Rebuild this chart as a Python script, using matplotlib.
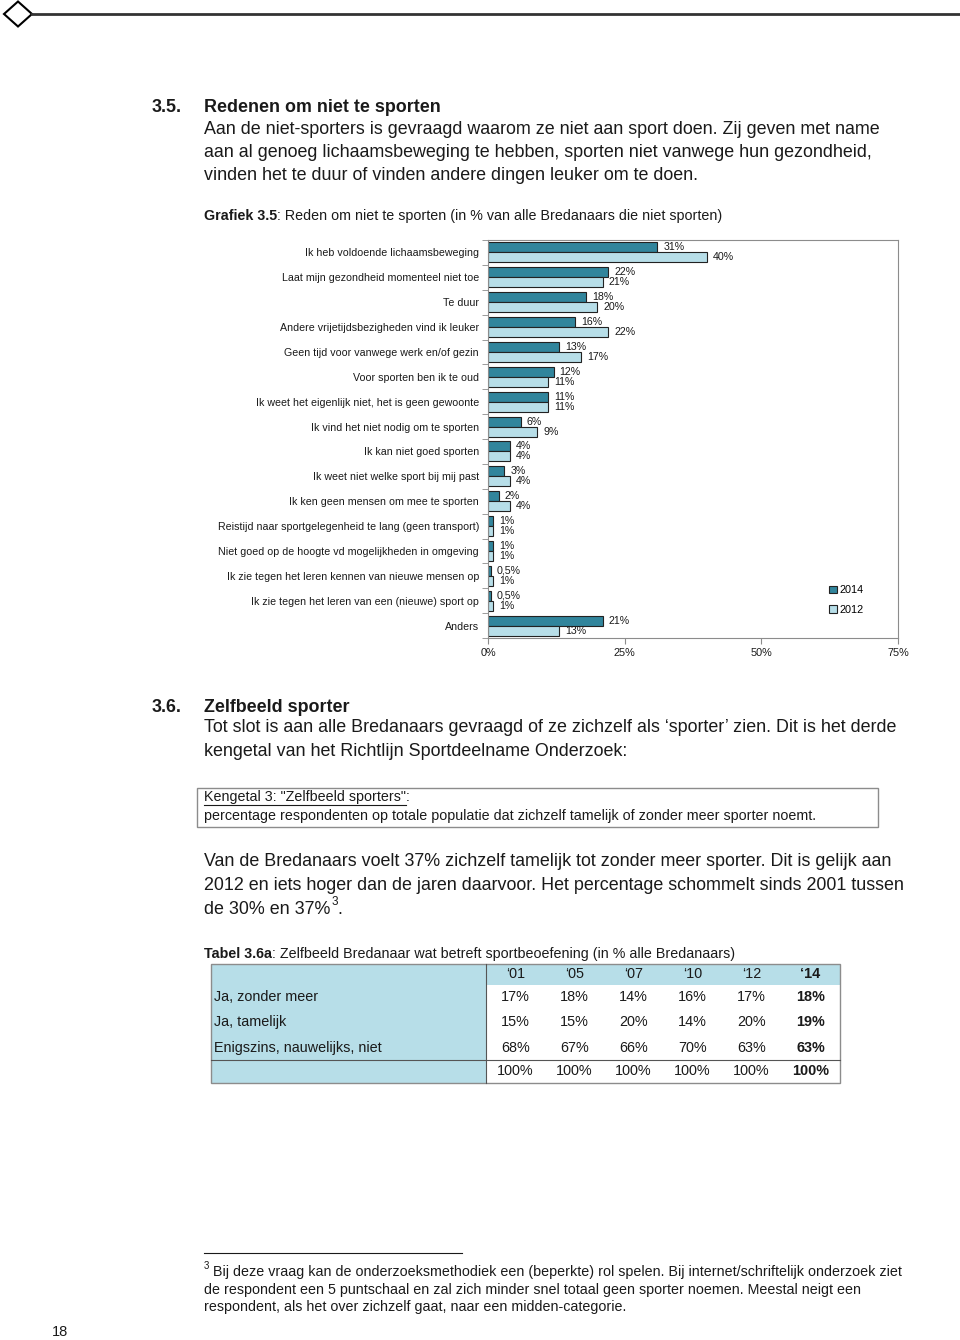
import numpy as np
import matplotlib
matplotlib.use("Agg")
import matplotlib.pyplot as plt
from matplotlib.patches import Rectangle, Polygon

plt.rcParams["font.family"] = ["Liberation Sans", "DejaVu Sans"]

W, H = 960, 1340

# Grafiek 3.5 - redenen om niet te sporten
categories = [
    "Ik heb voldoende lichaamsbeweging",
    "Laat mijn gezondheid momenteel niet toe",
    "Te duur",
    "Andere vrijetijdsbezigheden vind ik leuker",
    "Geen tijd voor vanwege werk en/of gezin",
    "Voor sporten ben ik te oud",
    "Ik weet het eigenlijk niet, het is geen gewoonte",
    "Ik vind het niet nodig om te sporten",
    "Ik kan niet goed sporten",
    "Ik weet niet welke sport bij mij past",
    "Ik ken geen mensen om mee te sporten",
    "Reistijd naar sportgelegenheid te lang (geen transport)",
    "Niet goed op de hoogte vd mogelijkheden in omgeving",
    "Ik zie tegen het leren kennen van nieuwe mensen op",
    "Ik zie tegen het leren van een (nieuwe) sport op",
    "Anders",
]
values_2014 = [31, 22, 18, 16, 13, 12, 11, 6, 4, 3, 2, 1, 1, 0.5, 0.5, 21]
values_2012 = [40, 21, 20, 22, 17, 11, 11, 9, 4, 4, 4, 1, 1, 1, 1, 13]
x_ticks = [0, 25, 50, 75]

# Tabel 3.6a
table_years = ["\u201801", "\u201805", "\u201807", "\u201810", "\u201812", "\u201814"]
table_rows = ["Ja, zonder meer", "Ja, tamelijk", "Enigszins, nauwelijks, niet"]
ja_zonder_meer = [17, 18, 14, 16, 17, 18]
ja_tamelijk = [15, 15, 20, 14, 20, 19]
enigszins_niet = [68, 67, 66, 70, 63, 63]
totaal = [100, 100, 100, 100, 100, 100]

DARK = "#31859C"
LIGHT = "#B7DEE8"
TXT = "#1a1a1a"
BODY = 12.9   # lopende tekst
SMALL = 10.3  # bijschriften, kader, voetnoot
CHART = 7.65  # tekst in de grafiek


def pct(v):
    return f"{v:g}%".replace(".", ",")


fig = plt.figure(figsize=(W / 100, H / 100), dpi=100)
page = fig.add_axes([0, 0, 1, 1])
page.set_xlim(0, W)
page.set_ylim(H, 0)
page.axis("off")
renderer = fig.canvas.get_renderer()


def runs(x, y, parts, size):
    """Tekst in stukken met wisselend gewicht achter elkaar."""
    for s, weight in parts:
        t = page.text(x, y, s, fontsize=size, fontweight=weight, va="center",
                      color=TXT)
        bb = t.get_window_extent(renderer=renderer)
        x = page.transData.inverted().transform((bb.x1, 0))[0]
    return x


# kop van de pagina
page.plot([32, W], [14, 14], color="#333333", lw=2)
page.add_patch(Polygon([(4, 14), (18, 1.5), (32, 14), (18, 26.5)], closed=True,
                       fill=False, edgecolor="black", lw=1.5))

# 3.5
page.text(152, 107, "3.5.", fontsize=BODY, fontweight="bold", va="center", color=TXT)
page.text(204, 107, "Redenen om niet te sporten", fontsize=BODY, fontweight="bold",
          va="center", color=TXT)
body_35 = [
    "Aan de niet-sporters is gevraagd waarom ze niet aan sport doen. Zij geven met name",
    "aan al genoeg lichaamsbeweging te hebben, sporten niet vanwege hun gezondheid,",
    "vinden het te duur of vinden andere dingen leuker om te doen.",
]
for i, line in enumerate(body_35):
    page.text(204, 129 + 23.5 * i, line, fontsize=BODY, va="center", color=TXT)

runs(204, 216, [("Grafiek 3.5", "bold"),
                (": Reden om niet te sporten (in % van alle Bredanaars die niet sporten)", "normal")],
     SMALL)

# grafiek
ax = fig.add_axes([488 / W, 1 - 638 / H, 410 / W, 398 / H])
y = np.arange(len(categories))
h = 0.4
ax.barh(y - h / 2, values_2014, height=h, color=DARK, edgecolor="#222222", lw=0.8,
        label="2014")
ax.barh(y + h / 2, values_2012, height=h, color=LIGHT, edgecolor="#222222", lw=0.8,
        label="2012")
for yy, v in zip(y, values_2014):
    ax.annotate(pct(v), (v, yy - h / 2), xytext=(4.3, 0), textcoords="offset points",
                va="center", ha="left", fontsize=CHART, color=TXT)
for yy, v in zip(y, values_2012):
    ax.annotate(pct(v), (v, yy + h / 2), xytext=(4.3, 0), textcoords="offset points",
                va="center", ha="left", fontsize=CHART, color=TXT)

ax.set_xlim(0, 75)
ax.set_ylim(len(categories) - 0.5, -0.5)
ax.set_xticks(x_ticks)
ax.set_xticklabels([f"{t}%" for t in x_ticks], fontsize=7.8, color=TXT)
ax.set_yticks(y)
ax.set_yticklabels(categories, fontsize=CHART, color=TXT)
ax.set_yticks(np.arange(-0.5, len(categories), 1), minor=True)
ax.tick_params(axis="y", which="major", length=0, pad=6.5)
ax.tick_params(axis="y", which="minor", length=4, color="#8c8c8c", direction="out")
ax.tick_params(axis="x", length=4, color="#8c8c8c", direction="out", pad=3)
for sp in ax.spines.values():
    sp.set_color("#8c8c8c")
    sp.set_linewidth(0.8)
ax.legend(loc="center left", bbox_to_anchor=(829 / W, 1 - 600 / H),
          bbox_transform=fig.transFigure, frameon=False, fontsize=7.8,
          handlelength=0.7, handleheight=0.7, handletextpad=0.3, labelspacing=0.85,
          borderpad=0, borderaxespad=0)

# 3.6
page.text(152, 707, "3.6.", fontsize=BODY, fontweight="bold", va="center", color=TXT)
page.text(204, 707, "Zelfbeeld sporter", fontsize=BODY, fontweight="bold", va="center",
          color=TXT)
body_36 = [
    "Tot slot is aan alle Bredanaars gevraagd of ze zichzelf als \u2018sporter\u2019 zien. Dit is het derde",
    "kengetal van het Richtlijn Sportdeelname Onderzoek:",
]
for i, line in enumerate(body_36):
    page.text(204, 728 + 23.5 * i, line, fontsize=BODY, va="center", color=TXT)

page.add_patch(Rectangle((197, 788), 681, 39, fill=False, edgecolor="#8c8c8c", lw=1))
t = page.text(204, 797, "Kengetal 3: \"Zelfbeeld sporters\"", fontsize=SMALL,
              va="center", color=TXT)
bb = t.get_window_extent(renderer=renderer)
x_end = page.transData.inverted().transform((bb.x1, 0))[0]
page.plot([204, x_end], [804.5, 804.5], color=TXT, lw=0.8)
page.text(x_end, 797, ":", fontsize=SMALL, va="center", color=TXT)
page.text(204, 816, "percentage respondenten op totale populatie dat zichzelf tamelijk "
          "of zonder meer sporter noemt.", fontsize=SMALL, va="center", color=TXT)

body_37 = [
    "Van de Bredanaars voelt 37% zichzelf tamelijk tot zonder meer sporter. Dit is gelijk aan",
    "2012 en iets hoger dan de jaren daarvoor. Het percentage schommelt sinds 2001 tussen",
]
for i, line in enumerate(body_37):
    page.text(204, 862 + 23.5 * i, line, fontsize=BODY, va="center", color=TXT)
xe = runs(204, 909, [("de 30% en 37%", "normal")], BODY)
page.text(xe + 1, 902, "3", fontsize=8.5, va="center", color=TXT)
page.text(xe + 7, 909, ".", fontsize=BODY, va="center", color=TXT)

# tabel 3.6a
runs(204, 954, [("Tabel 3.6a", "bold"),
                (": Zelfbeeld Bredanaar wat betreft sportbeoefening (in % alle Bredanaars)", "normal")],
     SMALL)
tx0, tx1, tcol = 211, 840, 486
row_y = [974, 997, 1022, 1048, 1071]
top, sep, bottom = 964, 1060, 1083
page.add_patch(Rectangle((tx0, top), tcol - tx0, bottom - top, color=LIGHT, lw=0))
page.add_patch(Rectangle((tcol, top), tx1 - tcol, 21, color=LIGHT, lw=0))
page.add_patch(Rectangle((tx0, top), tx1 - tx0, bottom - top, fill=False,
                         edgecolor="#8c8c8c", lw=1))
page.plot([tcol, tcol], [top, bottom], color="#555555", lw=0.8)
page.plot([tx0, tx1], [sep, sep], color="#555555", lw=0.8)
col_w = (tx1 - tcol) / len(table_years)
col_x = [tcol + col_w * (i + 0.5) for i in range(len(table_years))]
for j, (cx, yr) in enumerate(zip(col_x, table_years)):
    bold = "bold" if j == len(table_years) - 1 else "normal"
    page.text(cx, row_y[0], yr, fontsize=10.4, fontweight=bold, ha="center",
              va="center", color=TXT)
for i, (name, vals) in enumerate(zip(table_rows + [""],
                                     [ja_zonder_meer, ja_tamelijk, enigszins_niet, totaal])):
    ry = row_y[i + 1]
    page.text(214, ry, name, fontsize=10.4, va="center", color=TXT)
    for j, (cx, v) in enumerate(zip(col_x, vals)):
        bold = "bold" if j == len(vals) - 1 else "normal"
        page.text(cx, ry, f"{v}%", fontsize=10.4, fontweight=bold, ha="center",
                  va="center", color=TXT)

# voetnoot
page.plot([204, 462], [1253, 1253], color=TXT, lw=0.8)
page.text(204, 1266, "3", fontsize=7, va="center", color=TXT)
foot = [
    "Bij deze vraag kan de onderzoeksmethodiek een (beperkte) rol spelen. Bij internet/schriftelijk onderzoek ziet",
    "de respondent een 5 puntschaal en zal zich minder snel totaal geen sporter noemen. Meestal neigt een",
    "respondent, als het over zichzelf gaat, naar een midden-categorie.",
]
page.text(213, 1272, foot[0], fontsize=SMALL, va="center", color=TXT)
page.text(204, 1290, foot[1], fontsize=SMALL, va="center", color=TXT)
page.text(204, 1307, foot[2], fontsize=SMALL, va="center", color=TXT)
page.text(52, 1332, "18", fontsize=10.5, va="center", color=TXT)

fig.savefig("out.png", dpi=100)
